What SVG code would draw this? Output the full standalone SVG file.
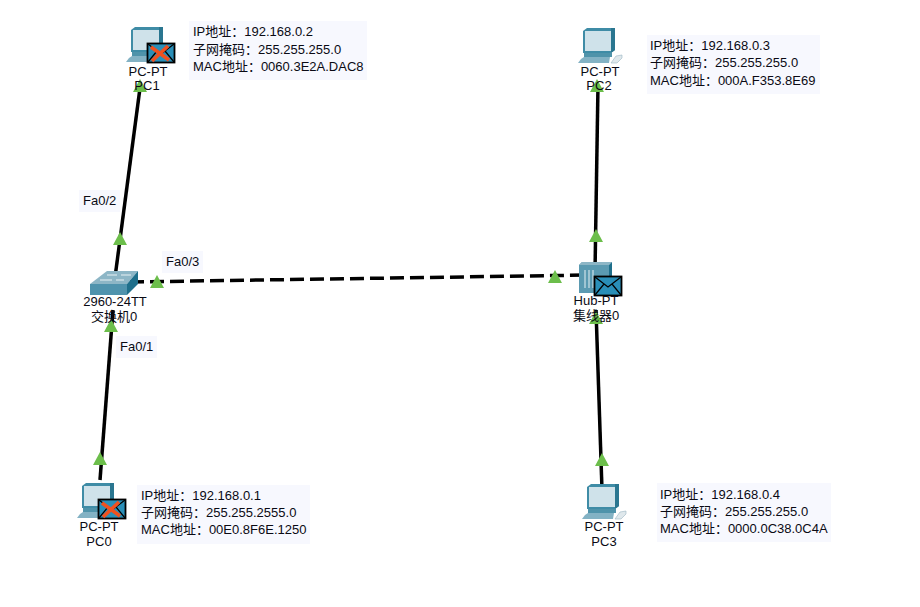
<svg xmlns="http://www.w3.org/2000/svg" width="920" height="607" viewBox="0 0 920 607">
<style>
text{font-family:"Liberation Sans","Noto Sans CJK SC",sans-serif;font-size:13px;fill:#0a0a14}
.c{text-anchor:middle}
.box{fill:#f7f8fe}
.link{stroke:#000;stroke-width:3.5;fill:none}
.dash{stroke-dasharray:14 6}
.tri{fill:#6cbe4b}
</style>
<defs>
<g id="pc">
<path d="M5 4 L9 1 H37 V23 L33 26 H5Z" fill="#3f8ca6"/>
<path d="M33 1 H37 V23 L33 26Z" fill="#2a7690"/>
<rect x="7" y="4" width="26" height="20" fill="#cfe2ea"/>
<rect x="6" y="26" width="28" height="4" fill="#4f93aa"/>
<path d="M6 30 H32 L31 36 H0 L3 32Z" fill="#83b2c4"/>
</g>
<g id="pcm">
<path d="M38 29 L44 28 L44 31 L39 36 L33 36Z" fill="#dfe8ec" stroke="#9ab6c2" stroke-width=".6"/>
</g>
<g id="env">
<rect x="0.5" y="0.5" width="27" height="19" fill="#2a8fb8" stroke="#000" stroke-width="1.8"/>
<path d="M1 1 L14 11 L27 1 M1 19 L10 8 M27 19 L18 8" fill="none" stroke="#000" stroke-width="1.2"/>
</g>
<path id="x" d="M3 4 L21 17 M20 3 L4 18" stroke="#f0511f" stroke-width="3.6" fill="none"/>
<path id="t" class="tri" d="M0 -7 L7 6 H-7Z"/>
</defs>

<g id="connectors">
<path class="link" d="M140 88 L114 285"/>
<path class="link" d="M100 480 L113 310"/>
<path class="link dash" d="M130 282 L590 275"/>
<path class="link" d="M598 85 L595 272"/>
<path class="link" d="M596 310 L602 490"/>
<use href="#t" x="120" y="239"/>
<use href="#t" x="111" y="326"/>
<use href="#t" x="157" y="282"/>
<use href="#t" x="100" y="459"/>
<use href="#t" x="140" y="86"/>
<use href="#t" x="596" y="236"/>
<use href="#t" x="555" y="277"/>
<use href="#t" x="597" y="86"/>
<use href="#t" x="596" y="318"/>
<use href="#t" x="602" y="460"/>
</g>

<g id="PC1">
<use href="#pc" x="126" y="26"/>
<use href="#env" x="147" y="43"/>
<use href="#x" x="148" y="43"/>
<text class="c" x="148" y="76">PC-PT</text>
<text class="c" x="147" y="90">PC1</text>
</g>
<g id="PC2">
<use href="#pc" x="578" y="27"/>
<use href="#pcm" x="578" y="27"/>
<text class="c" x="600" y="76">PC-PT</text>
<text class="c" x="599" y="90">PC2</text>
</g>
<g id="PC0">
<use href="#pc" x="77" y="482"/>
<use href="#env" x="98" y="499"/>
<use href="#x" x="99" y="499"/>
<text class="c" x="99" y="531">PC-PT</text>
<text class="c" x="99" y="546">PC0</text>
</g>
<g id="PC3">
<use href="#pc" x="582" y="483"/>
<use href="#pcm" x="582" y="483"/>
<text class="c" x="604" y="531">PC-PT</text>
<text class="c" x="604" y="546">PC3</text>
</g>
<g id="switch0">
<path d="M90 284 L107 271 H138 L127 284Z" fill="#8db6c6"/>
<path d="M90 284 H127 V295 H90Z" fill="#4f93ad"/>
<path d="M127 284 L138 271 V284 L127 295Z" fill="#1f6f8b"/>
<path d="M107 275 H117 M121 275 H131 M100 280 H112 M116 280 H124" stroke="#e8f1f4" stroke-width="1"/>
<text class="c" x="115" y="306">2960-24TT</text>
<text class="c" x="114" y="321">交换机0</text>
</g>
<g id="hub0">
<path d="M579 265 L582 262 H612 V290 L609 293 H579Z" fill="#5b9ab1"/>
<path d="M609 265 L612 262 V290 L609 293Z" fill="#1f6f8b"/>
<path d="M579 265 L582 262 H612 L609 265Z" fill="#8db6c6"/>
<path d="M585 270 V288 M589 270 V288 M593 270 V288" stroke="#b8d3dd" stroke-width="1.5"/>
<use href="#env" x="594" y="276"/>
<text class="c" x="596" y="305">Hub-PT</text>
<text class="c" x="596" y="320">集线器0</text>
</g>

<g id="info-pc1">
<rect class="box" x="189" y="21" width="178" height="59"/>
<text x="193" y="36">IP地址：192.168.0.2</text>
<text x="193" y="54">子网掩码：255.255.255.0</text>
<text x="193" y="71">MAC地址：0060.3E2A.DAC8</text>
</g>
<g id="info-pc2">
<rect class="box" x="647" y="35" width="173" height="59"/>
<text x="650" y="50">IP地址：192.168.0.3</text>
<text x="650" y="67">子网掩码：255.255.255.0</text>
<text x="650" y="85">MAC地址：000A.F353.8E69</text>
</g>
<g id="info-pc0">
<rect class="box" x="137" y="485" width="173" height="59"/>
<text x="141" y="500">IP地址：192.168.0.1</text>
<text x="141" y="517">子网掩码：255.255.2555.0</text>
<text x="141" y="534">MAC地址：00E0.8F6E.1250</text>
</g>
<g id="info-pc3">
<rect class="box" x="657" y="483" width="174" height="59"/>
<text x="660" y="499">IP地址：192.168.0.4</text>
<text x="660" y="516">子网掩码：255.255.255.0</text>
<text x="660" y="533">MAC地址：0000.0C38.0C4A</text>
</g>
<g id="label-fa02">
<rect class="box" x="79" y="190" width="41" height="22"/>
<text x="83" y="205">Fa0/2</text>
</g>
<g id="label-fa03">
<rect class="box" x="162" y="251" width="41" height="22"/>
<text x="166" y="266">Fa0/3</text>
</g>
<g id="label-fa01">
<rect class="box" x="116" y="336" width="41" height="22"/>
<text x="120" y="351">Fa0/1</text>
</g>
</svg>
